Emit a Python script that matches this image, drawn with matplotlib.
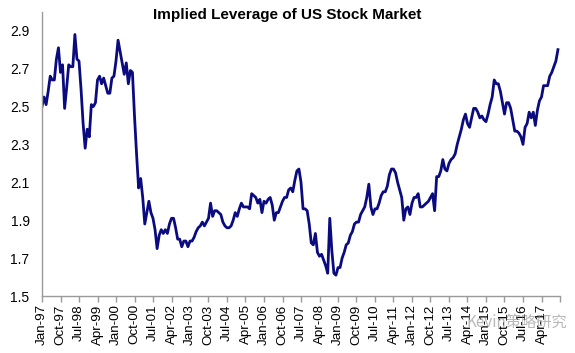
import matplotlib
matplotlib.use("Agg")
import matplotlib.pyplot as plt
import numpy as np

title = "Implied Leverage of US Stock Market"
start_year = 1997
months = ["Jan", "Feb", "Mar", "Apr", "May", "Jun", "Jul", "Aug", "Sep", "Oct", "Nov", "Dec"]

leverage = [
    2.50, 2.55, 2.51, 2.58, 2.66, 2.64, 2.64, 2.75, 2.81, 2.68, 2.72, 2.49,   # 1997
    2.60, 2.72, 2.71, 2.71, 2.88, 2.75, 2.74, 2.59, 2.41, 2.28, 2.38, 2.34,   # 1998
    2.51, 2.50, 2.52, 2.64, 2.66, 2.62, 2.65, 2.61, 2.57, 2.57, 2.65, 2.66,   # 1999
    2.74, 2.85, 2.79, 2.73, 2.67, 2.73, 2.62, 2.69, 2.68, 2.45, 2.25, 2.07,   # 2000
    2.12, 2.02, 1.88, 1.94, 2.00, 1.94, 1.91, 1.85, 1.75, 1.82, 1.85, 1.83,   # 2001
    1.85, 1.83, 1.88, 1.91, 1.91, 1.86, 1.80, 1.80, 1.76, 1.79, 1.79, 1.76,   # 2002
    1.79, 1.79, 1.81, 1.84, 1.86, 1.87, 1.89, 1.87, 1.89, 1.91, 1.99, 1.92,   # 2003
    1.95, 1.95, 1.94, 1.93, 1.89, 1.87, 1.86, 1.86, 1.87, 1.90, 1.94, 1.92,   # 2004
    1.96, 1.99, 1.97, 1.97, 1.97, 1.96, 2.04, 2.03, 2.02, 1.99, 2.01, 1.94,   # 2005
    2.00, 1.99, 2.01, 2.02, 1.98, 1.90, 1.94, 1.94, 1.97, 2.00, 2.02, 2.02,   # 2006
    2.06, 2.07, 2.05, 2.11, 2.16, 2.17, 2.10, 1.96, 1.96, 1.95, 1.88, 1.78,   # 2007
    1.77, 1.83, 1.73, 1.71, 1.72, 1.69, 1.66, 1.62, 1.91, 1.74, 1.62, 1.61,   # 2008
    1.65, 1.65, 1.70, 1.73, 1.77, 1.78, 1.82, 1.84, 1.88, 1.89, 1.89, 1.93,   # 2009
    1.95, 1.97, 2.02, 2.09, 1.97, 1.93, 1.96, 1.96, 1.99, 2.03, 2.05, 2.05,   # 2010
    2.08, 2.14, 2.17, 2.17, 2.15, 2.10, 2.06, 2.02, 1.90, 1.96, 1.97, 1.93,   # 2011
    1.99, 2.02, 2.02, 2.04, 1.97, 1.97, 1.98, 1.99, 2.00, 2.02, 2.04, 1.95,   # 2012
    2.13, 2.13, 2.16, 2.22, 2.17, 2.16, 2.20, 2.22, 2.23, 2.25, 2.30, 2.34,   # 2013
    2.38, 2.43, 2.46, 2.41, 2.39, 2.44, 2.49, 2.49, 2.47, 2.44, 2.45, 2.43,   # 2014
    2.42, 2.46, 2.51, 2.55, 2.64, 2.62, 2.62, 2.58, 2.52, 2.46, 2.52, 2.52,   # 2015
    2.49, 2.43, 2.37, 2.37, 2.36, 2.34, 2.30, 2.39, 2.41, 2.47, 2.44, 2.47,   # 2016
    2.40, 2.48, 2.53, 2.55, 2.61, 2.61, 2.61, 2.66, 2.68, 2.71, 2.74, 2.80,   # 2017
]

y_ticks = [1.5, 1.7, 1.9, 2.1, 2.3, 2.5, 2.7, 2.9]
tick_step = 9

n = len(leverage)
x = np.arange(n)
labels = ["%s-%02d" % (months[i % 12], (start_year + i // 12) % 100) for i in range(n + 1)]

plt.rcParams['font.family'] = ['Liberation Sans', 'DejaVu Sans']
fig = plt.figure(figsize=(5.75, 3.53), dpi=100)
ax = fig.add_axes([42/575, 1-296/353, (560-42)/575, (296-11.75)/353])

ax.plot(x, leverage, color="#0B0B80", linewidth=2.0, solid_joinstyle="round")
ax.set_xlim(0, n)
ax.set_ylim(1.5, 3.0)
ax.set_yticks(y_ticks)
ax.set_yticklabels(["%.1f" % v for v in y_ticks], fontsize=10)
xt = list(range(0, n, tick_step))
ax.set_xticks(xt + [n])
ax.set_xticklabels([labels[i] for i in xt] + [""], rotation=90, fontsize=9.6)
for s in ["top", "right"]:
    ax.spines[s].set_visible(False)
for s in ["left", "bottom"]:
    ax.spines[s].set_color("#9a9a9a")
    ax.spines[s].set_linewidth(1.0)
ax.tick_params(axis="both", direction="out", length=4, color="#9a9a9a", width=1.0, pad=2)
ax.tick_params(axis="y", length=0, pad=9)

fig.text(0.5, 1-15/353, title, ha="center", va="center", fontsize=11, fontweight="bold")
fig.text(467/575, 1-322/353, "Kevin策略研究", ha="left", va="center", fontsize=11,
         family=["Noto Sans CJK SC", "DejaVu Sans"], color="#8a8a8a", alpha=0.6)

fig.savefig("out.png", dpi=100)
